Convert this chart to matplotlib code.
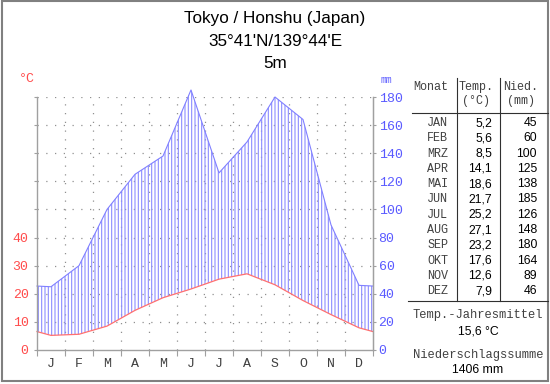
import numpy as np
import matplotlib.pyplot as plt
from matplotlib.patches import Rectangle

# Tokyo climate data
months = ['J', 'F', 'M', 'A', 'M', 'J', 'J', 'A', 'S', 'O', 'N', 'D']
month_names = ['JAN', 'FEB', 'MRZ', 'APR', 'MAI', 'JUN',
               'JUL', 'AUG', 'SEP', 'OKT', 'NOV', 'DEZ']
temp = [5.2, 5.6, 8.5, 14.1, 18.6, 21.7, 25.2, 27.1, 23.2, 17.6, 12.6, 7.9]
prec = [45, 60, 100, 125, 138, 185, 126, 148, 180, 164, 89, 46]
temp_mean = '15,6 °C'
prec_sum = '1406 mm'
title_lines = ['Tokyo / Honshu (Japan)', "35°41'N/139°44'E", '5m']

W, H = 550, 384
mono = 'Liberation Mono'
sans = 'Liberation Sans'
red = '#ff4c4c'
blue = '#5a5aff'
grid_c = '#909090'
text_c = '#404040'

plt.rcParams['hatch.linewidth'] = 0.8

fig = plt.figure(figsize=(W / 100, H / 100), dpi=100)


def fx(px):
    return px / W


def fy(py):
    return 1 - py / H


ax = fig.add_axes([fx(37), fy(350), fx(373) - fx(37), fy(97) - fy(350)])

# month centres, wrapped to the edges with the Dec/Jan mean
x = np.concatenate([[0], np.arange(12) + 0.5, [12]])
t = np.array(temp)
p = np.array(prec)
t_edge = (t[0] + t[-1]) / 2
p_edge = (p[0] + p[-1]) / 2
t_line = np.concatenate([[t_edge], t, [t_edge]]) * 2  # 10 °C = 20 mm
p_line = np.concatenate([[p_edge], p, [p_edge]])

ax.fill_between(x, t_line, p_line, where=p_line >= t_line, facecolor='none',
                edgecolor='#8c8cff', hatch='|||||', linewidth=0, clip_on=False)
ax.plot(x, p_line, color='#8080ff', lw=0.8, clip_on=False)
ax.plot(x, t_line, color='#ff7070', lw=0.9, clip_on=False)

ax.set_xlim(0, 12)
ax.set_ylim(0, 180)

# grid
for yv in range(20, 181, 20):
    ax.axhline(yv, color=grid_c, lw=0.9, ls=(0, (1, 6)), zorder=0)
for xv in range(1, 12):
    ax.axvline(xv, color=grid_c, lw=0.9, ls=(0, (1, 6)), zorder=0)

ax.spines['top'].set_visible(False)
for s in ['left', 'right', 'bottom']:
    ax.spines[s].set_color('#a0a0a0')
    ax.spines[s].set_linewidth(1.0)

ax.set_xticks(range(13))
ax.set_xticklabels([])
ax.set_xticks(np.arange(12) + 0.5, minor=True)
ax.set_xticklabels(months, minor=True, fontfamily=mono, fontsize=9.5, color=text_c)
ax.tick_params(axis='x', which='major', length=4, color='#a0a0a0')
ax.tick_params(axis='x', which='minor', length=0, pad=6)

ax.set_yticks(range(0, 181, 20))
ax.set_yticklabels(['0', '10', '20', '30', '40', '', '', '', '', ''],
                   fontfamily=mono, fontsize=9.5, color=red)
ax.tick_params(axis='y', length=2, color='#a0a0a0', pad=4)

ax2 = ax.twinx()
ax2.set_ylim(0, 180)
ax2.set_yticks(range(0, 181, 20))
ax2.set_yticklabels([str(v) for v in range(0, 181, 20)],
                    fontfamily=mono, fontsize=9.5, color=blue)
ax2.tick_params(axis='y', length=2, color='#a0a0a0', pad=2)
for s in ['top', 'left', 'bottom']:
    ax2.spines[s].set_visible(False)
ax2.spines['right'].set_color('#a0a0a0')

fig.text(fx(27), fy(79), '°C', fontfamily=mono, fontsize=9.5, color=red,
         ha='center', va='center')
fig.text(fx(386), fy(80), 'mm', fontfamily=mono, fontsize=7, color=blue,
         ha='center', va='center')

# title
for i, line in enumerate(title_lines):
    fig.text(fx(275), fy(18 + 23 * i), line, fontfamily=sans, fontsize=12.3,
             color='black', ha='center', va='center')

# table
fig.text(fx(448), fy(87), 'Monat', fontfamily=mono, fontsize=8.5,
         color=text_c, ha='right', va='center')
fig.text(fx(476), fy(87), 'Temp.', fontfamily=mono, fontsize=8.5,
         color=text_c, ha='center', va='center')
fig.text(fx(476), fy(101), '(°C)', fontfamily=mono, fontsize=8.5,
         color=text_c, ha='center', va='center')
fig.text(fx(521), fy(87), 'Nied.', fontfamily=mono, fontsize=8.5,
         color=text_c, ha='center', va='center')
fig.text(fx(521), fy(101), '(mm)', fontfamily=mono, fontsize=8.5,
         color=text_c, ha='center', va='center')

for i in range(12):
    yy = fy(123 + 15.3 * i)
    fig.text(fx(448), yy, month_names[i], fontfamily=mono, fontsize=8.5,
             color=text_c, ha='right', va='center')
    fig.text(fx(492), yy, f'{temp[i]:.1f}'.replace('.', ','), fontfamily=sans,
             fontsize=8.8, color='black', ha='right', va='center')
    fig.text(fx(537), yy, str(prec[i]), fontfamily=sans, fontsize=8.8,
             color='black', ha='right', va='center')

fig.add_artist(plt.Line2D([fx(412), fx(548)], [fy(113), fy(113)],
                          color='#303030', lw=0.8))
fig.add_artist(plt.Line2D([fx(408), fx(548)], [fy(301), fy(301)],
                          color='#303030', lw=0.8))
for xv in [456.5, 500]:
    fig.add_artist(plt.Line2D([fx(xv), fx(xv)], [fy(78), fy(301)],
                              color='#303030', lw=0.8))

fig.text(fx(478), fy(315), 'Temp.-Jahresmittel', fontfamily=mono, fontsize=8.7,
         color=text_c, ha='center', va='center')
fig.text(fx(478), fy(331), temp_mean, fontfamily=sans, fontsize=8.8,
         color='black', ha='center', va='center')
fig.text(fx(478), fy(355), 'Niederschlagssumme', fontfamily=mono, fontsize=8.7,
         color=text_c, ha='center', va='center')
fig.text(fx(478), fy(370), prec_sum, fontfamily=sans, fontsize=8.8,
         color='black', ha='center', va='center')

# outer frame
fig.add_artist(Rectangle((fx(2), fy(381)), fx(546), fy(1) - fy(381),
                         transform=fig.transFigure, fill=False,
                         edgecolor='#808080', lw=1.5))

fig.savefig('out.png', dpi=100)
